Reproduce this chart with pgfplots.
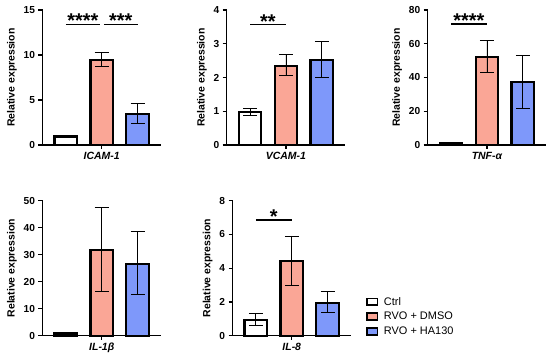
\documentclass[border=0pt]{standalone}
\usepackage{pgfplots}
\pgfplotsset{compat=1.18}
\usepackage{fontspec}
\setmainfont{Liberation Sans}
\definecolor{salmon}{RGB}{250,166,150}
\definecolor{bluev}{RGB}{126,152,250}
\pgfplotsset{
  panel/.style={
    scale only axis, width=118.5bp, height=135bp,
    xmin=-0.65, xmax=2.65, ymin=0,
    axis x line*=bottom, axis y line*=left,
    axis line style={line width=1.4bp, black, -},
    xtick={1},
    tick style={line width=1.2bp, black},
    tick align=outside, major tick length=4bp,
    ticklabel style={font=\fontsize{10.2}{12}\selectfont\bfseries},
    /pgf/number format/assume math mode=true,
    ylabel={Relative expression},
    ylabel style={font=\fontsize{10.5}{12}\selectfont\bfseries},
    xticklabel style={font=\fontsize{10.5}{12}\selectfont\bfseries\itshape},
    clip=false,
  },
  mybar/.style={ybar, bar width=0.63, bar shift=0pt, draw=black, line width=2.2bp, fill=#1,
    error bars/y dir=both, error bars/y explicit,
    error bars/error bar style={line width=0.9bp, black, solid},
    error bars/error mark options={rotate=90, mark size=7bp, line width=0.9bp, black}},
}
\tikzset{sig/.style={font=\fontsize{20}{20}\selectfont\bfseries, anchor=base, inner sep=0pt, yshift=-3.5bp}}
\newcommand{\legbox}[1]{\draw[fill=#1,draw=black,line width=1.8bp] (0bp,-3.3bp) rectangle (10.5bp,3.3bp); \path[draw=none,fill=none] (15bp,0bp) circle (0.01bp);}
\begin{document}
\begin{tikzpicture}
\useasboundingbox (0,0) rectangle (550bp,358bp);
% ICAM-1
\begin{axis}[panel, at={(42.5bp,213bp)}, anchor=south west, ymax=15, ytick={0,5,10,15}, xticklabels={ICAM-1}]
\addplot[mybar=white] coordinates {(0,0.95) +- (0,0.1)};
\addplot[mybar=salmon] coordinates {(1,9.45) += (0,0.8) -= (0,0.75)};
\addplot[mybar=bluev] coordinates {(2,3.45) += (0,1.2) -= (0,1.1)};
\draw[line width=1.2bp] (axis cs:0,13.4) -- (axis cs:0.95,13.4);
\draw[line width=1.2bp] (axis cs:1.06,13.4) -- (axis cs:2,13.4);
\node[sig] at (axis cs:0.475,13.4) {****};
\node[sig] at (axis cs:1.53,13.4) {***};
\end{axis}
% VCAM-1
\begin{axis}[panel, at={(226.7bp,213bp)}, anchor=south west, ymax=4, ytick={0,1,2,3,4}, xticklabels={VCAM-1}]
\addplot[mybar=white] coordinates {(0,0.97) +- (0,0.1)};
\addplot[mybar=salmon] coordinates {(1,2.35) += (0,0.32) -= (0,0.3)};
\addplot[mybar=bluev] coordinates {(2,2.51) += (0,0.56) -= (0,0.52)};
\draw[line width=1.2bp] (axis cs:0,3.56) -- (axis cs:1,3.56);
\node[sig] at (axis cs:0.5,3.56) {**};
\end{axis}
% TNF-alpha
\begin{axis}[panel, at={(427.7bp,213bp)}, anchor=south west, ymax=80, ytick={0,20,40,60,80}, xticklabels={TNF-α}]
\addplot[mybar=white] coordinates {(0,0.9) +- (0,0.3)};
\addplot[mybar=salmon] coordinates {(1,52) += (0,10.2) -= (0,9.1)};
\addplot[mybar=bluev] coordinates {(2,37.3) += (0,16) -= (0,15.6)};
\draw[line width=1.2bp] (axis cs:0,71.7) -- (axis cs:1,71.7);
\node[sig] at (axis cs:0.5,71.7) {****};
\end{axis}
% IL-1beta
\begin{axis}[panel, at={(42.5bp,22.3bp)}, anchor=south west, ymax=50, ytick={0,10,20,30,40,50}, xticklabels={IL-1β}]
\addplot[mybar=white] coordinates {(0,0.8) +- (0,0.3)};
\addplot[mybar=salmon] coordinates {(1,31.7) += (0,15.7) -= (0,15.4)};
\addplot[mybar=bluev] coordinates {(2,26.6) += (0,12) -= (0,11.3)};
\end{axis}
% IL-8
\begin{axis}[panel, at={(232.5bp,22.3bp)}, anchor=south west, ymax=8, ytick={0,2,4,6,8}, xticklabels={IL-8},
  legend style={at={(1.1,0.142)}, anchor=west, draw=none, fill=none, font=\fontsize{11}{13}\selectfont, row sep=1.5bp},
  legend cell align=left]
\addplot[mybar=white, legend image code/.code={\legbox{white}}] coordinates {(0,0.95) += (0,0.37) -= (0,0.34)};
\addlegendentry{Ctrl}
\addplot[mybar=salmon, legend image code/.code={\legbox{salmon}}] coordinates {(1,4.43) += (0,1.48) -= (0,1.45)};
\addlegendentry{RVO + DMSO}
\addplot[mybar=bluev, legend image code/.code={\legbox{bluev}}] coordinates {(2,1.96) += (0,0.65) -= (0,0.6)};
\addlegendentry{RVO + HA130}
\draw[line width=1.2bp] (axis cs:0,6.86) -- (axis cs:1,6.86);
\node[sig] at (axis cs:0.5,6.86) {*};
\end{axis}
\end{tikzpicture}
\end{document}
